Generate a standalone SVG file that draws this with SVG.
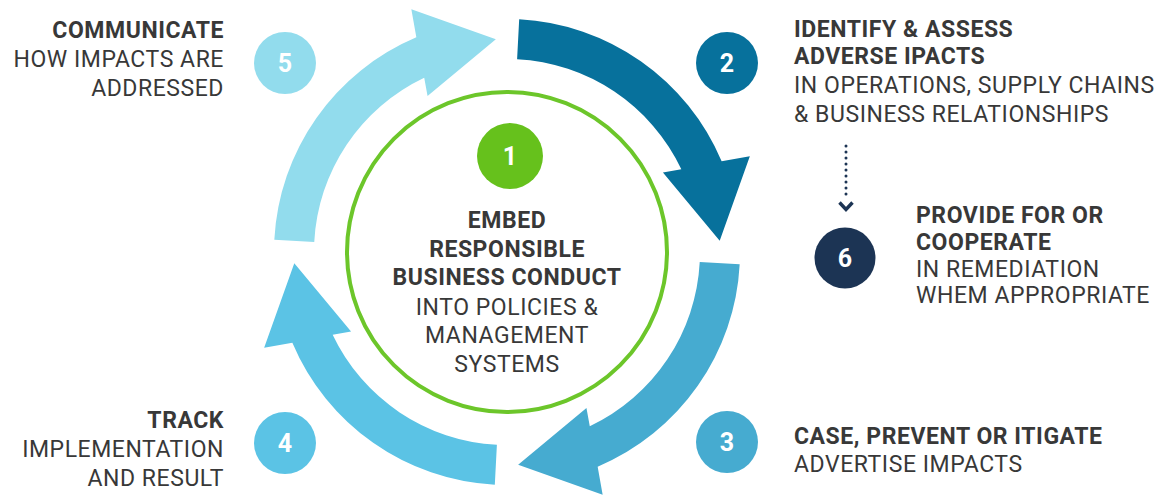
<svg xmlns="http://www.w3.org/2000/svg" width="1166" height="495" viewBox="0 0 1166 495">
<style>
text{font-family:Roboto,"Liberation Sans",sans-serif;fill:#383838;font-size:23px;letter-spacing:0.55px}
.b{font-weight:bold}
.num{fill:#fff;font-weight:bold;font-size:25px;text-anchor:middle;letter-spacing:0}
.r{text-anchor:end}
.c{text-anchor:middle}
</style>
<defs>
<path id="arr" d="M232.68,12.19 A233,233 0 0 1 90.66,214.64 L95.65,242.84 L11.15,212.71 L79.45,155.93 L82.78,174.34 A193,193 0 0 0 192.74,10.10 Z"/>
</defs>
<rect width="1166" height="495" fill="#fff"/>
<g id="connectors">
<g transform="translate(507,252)">
<use href="#arr" fill="#07719c" transform="rotate(-90)"/>
<use href="#arr" fill="#46abd0"/>
<use href="#arr" fill="#5bc3e5" transform="rotate(90)"/>
<use href="#arr" fill="#92dced" transform="rotate(180)"/>
</g>
<line x1="846" y1="146" x2="846" y2="198" stroke="#1c3454" stroke-width="3" stroke-linecap="round" stroke-dasharray="0 6"/>
<path d="M839.5,202.5 L846,209.5 L852.5,202.5" fill="none" stroke="#1c3454" stroke-width="3.4"/>
</g>
<g id="node1">
<circle cx="507" cy="252" r="160" fill="#fff" stroke="#6cc62a" stroke-width="4"/>
<circle cx="510" cy="156" r="33" fill="#66c11c"/>
<text class="num" x="510" y="165">1</text>
<text class="b c" x="507" y="228">EMBED</text>
<text class="b c" x="507" y="257">RESPONSIBLE</text>
<text class="b c" x="507" y="285">BUSINESS CONDUCT</text>
<text class="c" x="507" y="315">INTO POLICIES &amp;</text>
<text class="c" x="507" y="343">MANAGEMENT</text>
<text class="c" x="507" y="372">SYSTEMS</text>
</g>
<g id="node2">
<circle cx="727" cy="63" r="31" fill="#07719c"/>
<text class="num" x="727" y="72">2</text>
<text class="b" x="794" y="37">IDENTIFY &amp; ASSESS</text>
<text class="b" x="794" y="64">ADVERSE IPACTS</text>
<text x="794" y="93">IN OPERATIONS, SUPPLY CHAINS</text>
<text x="794" y="122">&amp; BUSINESS RELATIONSHIPS</text>
</g>
<g id="node3">
<circle cx="727" cy="442" r="31" fill="#46abd0"/>
<text class="num" x="727" y="451">3</text>
<text class="b" x="794" y="444">CASE, PREVENT OR ITIGATE</text>
<text x="794" y="472">ADVERTISE IMPACTS</text>
</g>
<g id="node4">
<circle cx="285" cy="443" r="31" fill="#5bc3e5"/>
<text class="num" x="285" y="452">4</text>
<text class="b r" x="224" y="428">TRACK</text>
<text class="r" x="224" y="457">IMPLEMENTATION</text>
<text class="r" x="224" y="486">AND RESULT</text>
</g>
<g id="node5">
<circle cx="285" cy="63" r="31" fill="#92dced"/>
<text class="num" x="285" y="72">5</text>
<text class="b r" x="224" y="38">COMMUNICATE</text>
<text class="r" x="224" y="67">HOW IMPACTS ARE</text>
<text class="r" x="224" y="96">ADDRESSED</text>
</g>
<g id="node6">
<circle cx="845" cy="258" r="30.5" fill="#1c3454"/>
<text class="num" x="845" y="267">6</text>
<text class="b" x="916" y="223">PROVIDE FOR OR</text>
<text class="b" x="916" y="250">COOPERATE</text>
<text x="916" y="277">IN REMEDIATION</text>
<text x="916" y="303">WHEM APPROPRIATE</text>
</g>
</svg>
